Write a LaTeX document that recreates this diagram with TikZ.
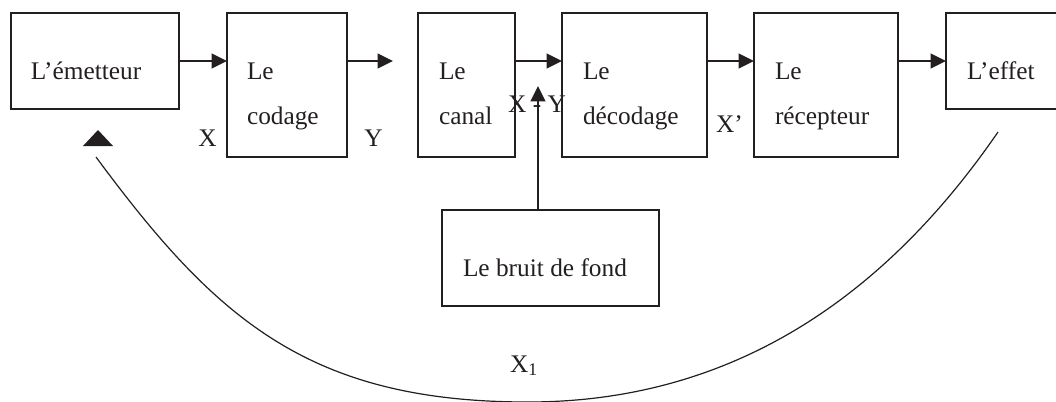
\documentclass[tikz,border=0pt]{standalone}
\usepackage{fontspec}
\setmainfont{Liberation Serif}
\usetikzlibrary{arrows.meta,calc}
\definecolor{ink}{RGB}{35,31,32}
\begin{document}
\begin{tikzpicture}[x=0.75pt,y=-0.75pt,
  box/.style={draw=ink,line width=1pt,inner sep=0pt,outer sep=0pt,rectangle},
  txt/.style={anchor=base west,inner sep=0pt,outer sep=0pt,text=ink,font=\fontsize{19}{22}\selectfont},
  lbl/.style={anchor=base,inner sep=0pt,outer sep=0pt,text=ink,font=\fontsize{19}{22}\selectfont},
  arr/.style={draw=ink,line width=1.6pt,-{Triangle[length=11.5pt,width=11pt]}},
  curve/.style={draw=ink,line width=0.9pt}]
\useasboundingbox (0,0) rectangle (1056,401);
\clip (0,0) rectangle (1056,401);
% boxes
\node[box,minimum width=126pt,minimum height=72pt] (emet) at (95,61) {};
\node[box,minimum width=90pt,minimum height=108pt] (codage) at (287,85) {};
\node[box,minimum width=72.75pt,minimum height=108pt] (canal) at (466.5,85) {};
\node[box,minimum width=108.75pt,minimum height=108pt] (decod) at (634.5,85) {};
\node[box,minimum width=108pt,minimum height=108pt] (recep) at (826,85) {};
\node[box,minimum width=105pt,minimum height=72pt] (effet) at (1016,61) {};
\node[box,minimum width=162.75pt,minimum height=72pt] (bruit) at (550.5,258) {};
% texts
\node[txt] (temet) at (31,79) {L’émetteur};
\node[txt] (tcod) at (247,79) {\vtop{\baselineskip=33.75pt\hbox{Le}\hbox{codage}}};
\node[txt] (tcan) at (439,79) {\vtop{\baselineskip=33.75pt\hbox{Le}\hbox{canal}}};
\node[txt] (tdec) at (583,79) {\vtop{\baselineskip=33.75pt\hbox{Le}\hbox{décodage}}};
\node[txt] (trec) at (775,79) {\vtop{\baselineskip=33.75pt\hbox{Le}\hbox{récepteur}}};
\node[txt] (teff) at (967,79) {L’effet};
\node[txt] (tbru) at (463,276) {Le bruit de fond};
% labels
\node[lbl] (lx) at (207.5,146) {X};
\node[lbl] (ly) at (373.5,146) {Y};
\node[lbl] (lxy) at (537,112) {X - Y};
\node[txt] (lxp) at (716,132) {X’};
\node[txt] (lx1) at (510,372) {X\textsubscript{1}};
% arrows
\coordinate (cfree) at (393,61);
\draw[arr] (emet.east) -- (codage.west |- emet.east);
\draw[arr] (codage.east |- emet.east) -- (cfree);
\draw[arr] (canal.east |- emet.east) -- (decod.west |- emet.east);
\draw[arr] (decod.east |- emet.east) -- (recep.west |- emet.east);
\draw[arr] (recep.east |- emet.east) -- (effet.west);
\coordinate (nz) at (538,86);
\draw[arr] (nz |- bruit.north) -- (nz);
% feedback triangle
\coordinate (tapex) at (98,130);
\fill[ink] (tapex) -- (113,146) -- (83,146) -- cycle;
% feedback curve
\coordinate (fbs) at (998,132);
\coordinate (fbm) at (528,402);
\coordinate (fbe) at (96,157);
\draw[curve] (fbs) .. controls (896,280.3) and (748,402) .. (fbm)
  .. controls (308,402) and (215,318) .. (fbe);
\end{tikzpicture}
\end{document}
